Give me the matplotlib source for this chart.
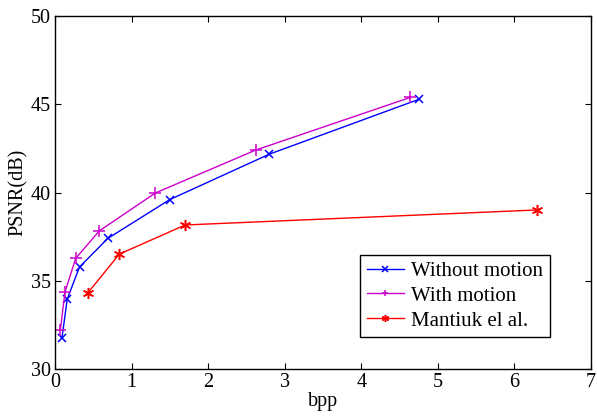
import matplotlib
matplotlib.use("Agg")
import matplotlib.pyplot as plt

plt.rcParams['font.family'] = ['Liberation Serif', 'DejaVu Serif']
plt.rcParams['mathtext.fontset'] = 'stix'

wo_x = [0.09, 0.16, 0.32, 0.69, 1.50, 2.80, 4.75]
wo_y = [31.75, 33.98, 35.79, 37.41, 39.61, 42.18, 45.28]
wm_x = [0.07, 0.13, 0.27, 0.58, 1.31, 2.62, 4.64]
wm_y = [32.22, 34.37, 36.28, 37.84, 39.98, 42.41, 45.39]
ma_x = [0.43, 0.84, 1.70, 6.29]
ma_y = [34.33, 36.52, 38.17, 39.02]
labels = ['Without motion', 'With motion', 'Mantiuk el al.']

fig = plt.figure(figsize=(5.97, 4.16), dpi=100)
ax = fig.add_axes([55/597, 1-369.3/416, (591-55)/597, (369.3-16)/416])

ax.plot(wo_x, wo_y, color='#0000ff', marker='x', markersize=5.5, mew=1.1, lw=1.0, label=labels[0])
ax.plot(wm_x, wm_y, color='#cc00cc', marker='+', markersize=8, mew=1.1, lw=1.0, label=labels[1])
ax.plot(ma_x, ma_y, color='#ff0000', marker=(6, 2, 0), markersize=8, mew=1.1, lw=1.0, label=labels[2])

ax.set_xlim(0, 7)
ax.set_ylim(30, 50)
ax.set_xticks(range(0, 8))
ax.set_yticks(range(30, 51, 5))
ax.tick_params(direction='in', length=4, width=0.8, top=True, right=True, labelsize=14.5, pad=3)
for s in ax.spines.values():
    s.set_linewidth(1.0)
ax.set_xlabel('bpp', fontsize=14.5, labelpad=0)
ax.set_ylabel('PSNR(dB)', fontsize=14.5, labelpad=2)

leg = ax.legend(loc='lower right', bbox_to_anchor=(0.923, 0.092), fontsize=15,
                fancybox=False, edgecolor='black', framealpha=1, borderpad=0.3,
                handlelength=1.8, handletextpad=0.35, labelspacing=0.25, borderaxespad=0)
leg.get_frame().set_linewidth(1.0)
for h in leg.legend_handles:
    h.set_markersize(5)

fig.savefig('out.png', dpi=100)
